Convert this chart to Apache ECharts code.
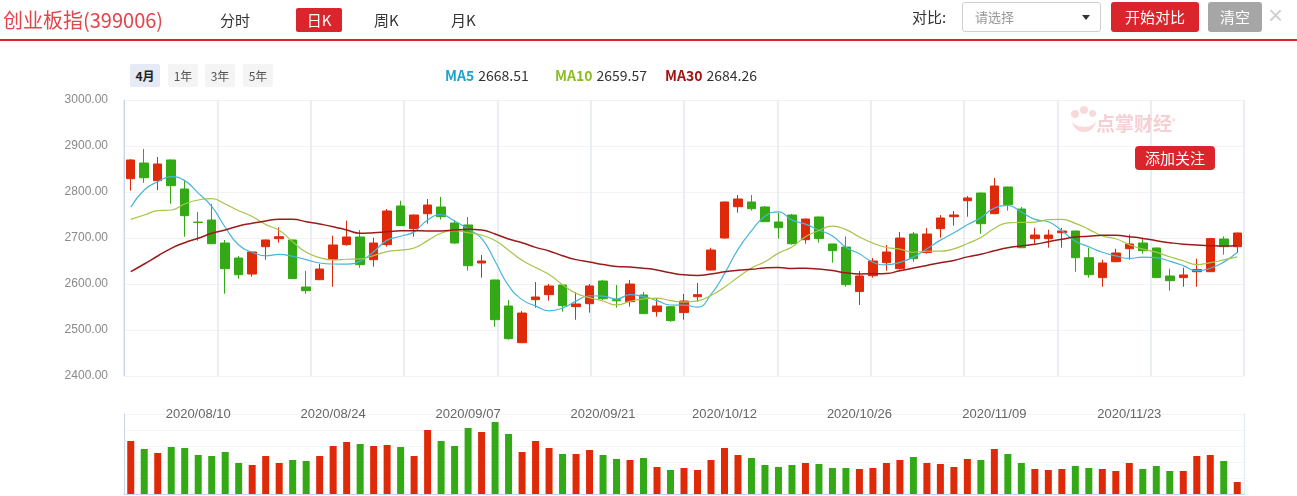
<!DOCTYPE html>
<html><head><meta charset="utf-8">
<script src="https://cdn.jsdelivr.net/npm/echarts@6/dist/echarts.min.js"></script>
<style>
html,body{margin:0;padding:0;background:#fff;width:1297px;height:496px;overflow:hidden;font-family:"Noto Sans CJK SC","Noto Sans",sans-serif;}
#chart{position:absolute;left:0;top:0;width:1297px;height:496px;}
.abs{position:absolute;white-space:nowrap;}
.rng{position:absolute;top:64px;height:23px;width:30px;line-height:23px;text-align:center;font-size:12px;color:#555;background:#f4f4f4;border-radius:2px;}
.lg{position:absolute;top:64px;line-height:22px;font-size:14px;white-space:nowrap;}
.lg b{font-weight:bold;}
.lg span{color:#333;margin-left:4px;}
.dot{position:absolute;background:#f8d9dc;border-radius:50%;}
</style></head><body>
<div id="chart"></div>

<div class="abs" style="left:3px;top:4px;font-size:20px;color:#e2454b;line-height:32px;">创业板指(399006)</div>
<div class="abs" style="left:220px;top:8px;font-size:15px;color:#333;line-height:24px;">分时</div>
<div class="abs" style="left:296px;top:8px;width:46px;height:24px;background:#d9252b;border-radius:2px;color:#fff;font-size:15px;line-height:24px;text-align:center;">日K</div>
<div class="abs" style="left:374px;top:8px;font-size:15px;color:#333;line-height:24px;">周K</div>
<div class="abs" style="left:451px;top:8px;font-size:15px;color:#333;line-height:24px;">月K</div>
<div class="abs" style="left:0;top:39px;width:1297px;height:2px;background:#d9252b;"></div>

<div class="abs" style="left:912px;top:5px;font-size:15px;color:#333;line-height:24px;">对比:</div>
<div class="abs" style="left:962px;top:2px;width:139px;height:30px;border:1px solid #cfcfcf;border-radius:3px;box-sizing:border-box;">
  <div class="abs" style="left:12px;top:0;font-size:13px;color:#999;line-height:28px;">请选择</div>
  <div class="abs" style="left:119px;top:12px;width:0;height:0;border-left:4px solid transparent;border-right:4px solid transparent;border-top:5px solid #333;"></div>
</div>
<div class="abs" style="left:1111px;top:2px;width:88px;height:30px;background:#d9252b;border-radius:3px;color:#fff;font-size:15px;line-height:30px;text-align:center;">开始对比</div>
<div class="abs" style="left:1208px;top:2px;width:54px;height:30px;background:#a6a6a6;border-radius:3px;color:#fff;font-size:15px;line-height:30px;text-align:center;">清空</div>
<div class="abs" style="left:1268px;top:0px;font-size:26px;color:#d0d0d0;line-height:30px;font-family:'Liberation Sans',sans-serif;">×</div>

<div class="rng" style="left:130px;background:#e6eaf4;color:#222;font-weight:bold;">4月</div>
<div class="rng" style="left:168px;">1年</div>
<div class="rng" style="left:205px;">3年</div>
<div class="rng" style="left:243px;">5年</div>

<div id="legend"></div>

<div class="dot" style="left:1071px;top:110px;width:8px;height:8px;"></div>
<div class="dot" style="left:1080px;top:106px;width:8px;height:8px;"></div>
<div class="dot" style="left:1089px;top:110px;width:7px;height:7px;"></div>
<div class="abs" style="left:1072px;top:118px;width:24px;height:14px;border-bottom:5px solid #f8d9dc;border-radius:0 0 14px 14px;box-sizing:border-box;"></div>
<div class="abs" style="left:1096px;top:108px;font-size:19px;font-weight:bold;color:#f6cfd3;line-height:26px;">点掌财经<sup style="font-size:7px;">®</sup></div>
<div class="abs" style="left:1135px;top:146px;width:80px;height:24px;background:#d9252b;border-radius:4px;color:#fff;font-size:15px;line-height:24px;text-align:center;">添加关注</div>

<script>
// ---------- data ----------
const dates = [
 '2020/08/03','2020/08/04','2020/08/05','2020/08/06','2020/08/07',
 '2020/08/10','2020/08/11','2020/08/12','2020/08/13','2020/08/14',
 '2020/08/17','2020/08/18','2020/08/19','2020/08/20','2020/08/21',
 '2020/08/24','2020/08/25','2020/08/26','2020/08/27','2020/08/28',
 '2020/08/31','2020/09/01','2020/09/02','2020/09/03','2020/09/04',
 '2020/09/07','2020/09/08','2020/09/09','2020/09/10','2020/09/11',
 '2020/09/14','2020/09/15','2020/09/16','2020/09/17','2020/09/18',
 '2020/09/21','2020/09/22','2020/09/23','2020/09/24','2020/09/25',
 '2020/09/28','2020/09/29','2020/09/30','2020/10/09',
 '2020/10/12','2020/10/13','2020/10/14','2020/10/15','2020/10/16',
 '2020/10/19','2020/10/20','2020/10/21','2020/10/22','2020/10/23',
 '2020/10/26','2020/10/27','2020/10/28','2020/10/29','2020/10/30',
 '2020/11/02','2020/11/03','2020/11/04','2020/11/05','2020/11/06',
 '2020/11/09','2020/11/10','2020/11/11','2020/11/12','2020/11/13',
 '2020/11/16','2020/11/17','2020/11/18','2020/11/19','2020/11/20',
 '2020/11/23','2020/11/24','2020/11/25','2020/11/26','2020/11/27',
 '2020/11/30','2020/12/01','2020/12/02','2020/12/03'
];
const labelDates = ['2020/08/10','2020/08/24','2020/09/07','2020/09/21','2020/10/12','2020/10/26','2020/11/09','2020/11/23'];

const openVals = [
 2828.9,2863.0,2824.6,2869.6,2806.5,2734.5,2739.1,2689.1,2656.5,2621.7,
 2681.1,2698.5,2695.7,2593.5,2609.4,2653.8,2685.5,2702.2,2652.8,2685.5,
 2769.6,2720.2,2752.8,2767.4,2732.6,2728.3,2645.7,2608.7,2552.2,2472.4,
 2565.9,2576.8,2597.8,2550.7,2557.2,2606.5,2566.0,2561.6,2576.1,2540.0,
 2550.7,2537.8,2572.4,2630.4,2700.0,2768.0,2778.3,2767.4,2734.8,2750.0,
 2696.3,2745.7,2687.0,2680.4,2583.5,2618.0,2646.3,2633.3,2708.7,2668.3,
 2720.2,2746.3,2781.1,2797.8,2752.8,2810.9,2763.0,2698.5,2698.5,2711.5,
 2715.2,2657.2,2613.9,2648.5,2676.7,2689.1,2678.3,2617.4,2613.9,2626.7,
 2626.7,2697.8,2681.1
];
const closeVals = [
 2869.6,2831.0,2860.9,2813.7,2748.5,2733.8,2687.6,2633.3,2620.2,2669.6,
 2695.7,2702.8,2611.8,2585.4,2632.6,2684.8,2702.2,2642.0,2689.1,2758.7,
 2726.8,2750.0,2771.7,2746.4,2689.1,2639.8,2650.0,2522.4,2481.1,2536.9,
 2571.7,2595.7,2552.8,2556.5,2595.7,2568.0,2563.5,2600.0,2535.6,2552.2,
 2520.3,2563.0,2576.8,2673.9,2778.3,2784.8,2763.7,2735.5,2722.4,2687.6,
 2741.3,2698.7,2672.4,2598.5,2617.4,2650.0,2669.6,2700.0,2655.0,2708.7,
 2743.5,2750.0,2787.0,2731.1,2813.0,2772.4,2678.9,2706.5,2706.5,2715.2,
 2657.2,2620.2,2645.7,2667.4,2687.0,2672.4,2613.9,2607.2,2619.6,2631.3,
 2698.7,2681.1,2710.9
];
const lowVals = [
 2802.8,2820.0,2804.3,2774.8,2702.8,2694.1,2687.0,2578.9,2611.5,2616.0,
 2652.8,2689.8,2611.0,2579.0,2608.5,2594.0,2683.3,2635.6,2637.6,2681.1,
 2726.0,2702.8,2731.1,2740.0,2687.0,2628.9,2613.7,2507.2,2479.0,2471.5,
 2548.5,2563.7,2539.8,2522.4,2537.8,2565.2,2548.5,2550.9,2535.0,2529.0,
 2518.0,2522.4,2561.6,2628.9,2698.5,2755.0,2759.6,2735.0,2698.7,2685.5,
 2687.6,2690.0,2646.3,2594.0,2554.3,2613.9,2628.9,2631.3,2648.5,2666.0,
 2700.6,2726.8,2746.3,2709.3,2752.0,2759.4,2678.0,2687.6,2679.0,2679.0,
 2626.7,2613.9,2594.0,2647.5,2652.8,2666.0,2613.0,2585.4,2594.0,2594.0,
 2626.0,2663.7,2668.0
];
const highVals = [
 2871.0,2893.5,2876.1,2870.5,2824.6,2756.5,2773.9,2695.7,2660.9,2670.5,
 2696.5,2723.3,2696.5,2628.3,2643.5,2705.0,2737.6,2717.4,2700.6,2763.0,
 2781.1,2751.0,2784.8,2789.1,2739.1,2745.7,2663.0,2609.5,2565.2,2541.3,
 2604.3,2600.0,2598.5,2582.6,2600.0,2608.7,2597.8,2608.7,2582.6,2569.6,
 2551.5,2578.3,2602.2,2678.9,2779.0,2793.5,2793.5,2769.6,2754.3,2752.2,
 2742.0,2746.5,2687.5,2703.3,2628.3,2656.5,2684.8,2713.0,2713.0,2721.7,
 2750.0,2758.7,2791.3,2798.5,2830.4,2811.5,2767.4,2722.4,2718.0,2721.7,
 2716.0,2679.0,2652.8,2676.7,2707.2,2700.6,2679.0,2633.3,2635.4,2655.0,
 2700.0,2703.3,2711.5
];
const volumeVals = [
 159,135,123,141,138,117,114,126,93,87,
 114,93,102,99,114,144,156,150,144,147,
 141,114,192,159,144,198,186,216,180,126,
 159,138,120,120,132,117,105,102,108,81,
 72,78,72,102,138,117,108,87,81,87,
 93,90,78,78,75,78,93,102,111,93,
 90,81,105,102,135,120,93,75,72,75,
 84,78,75,69,93,75,84,69,69,114,
 117,99,36
];
// moving-average values at the start of the window (they depend on days before 08/03)
const ma5Head = [2766.8,2804.3,2822.4,2833.3];
const ma10Head = [2740.6,2750.0,2759.4,2760.9,2773.9,2782.6,2785.4,2773.9,2759.4];
const ma30Head = [2626.7,2643.5,2660.9,2677.6,2689.8,2699.3,2710.2,2717.4,2726.1,2732.0,
 2737.0,2740.7,2740.7,2735.4,2730.4,2724.6,2717.4,2710.2,2711.5,2713.7,
 2715.9,2715.9,2715.2,2715.2,2717.4,2718.9,2717.4,2708.7,2697.8];
const legendNames = ['MA5','MA10','MA30'];
const legendValues = ['2668.51','2659.57','2684.26'];

// ---------- style ----------
const UP = '#df2a0a', DOWN = '#33a915';
const maColors = ['#45b6da','#a6c64a','#9b1b1b'];
const legendColors = ['#1ea4cb','#8cbd26','#a31414'];

function ma(n, head){
  return closeVals.map((c,i)=>{
    if(i < head.length) return head[i];
    let s=0; for(let k=i-n+1;k<=i;k++) s+=closeVals[k];
    return +(s/n).toFixed(2);
  });
}
const candleData = dates.map((d,i)=>[openVals[i],closeVals[i],lowVals[i],highVals[i]]);
const volData = volumeVals.map((v,i)=>({value:v,itemStyle:{color: closeVals[i]>=openVals[i]?UP:DOWN}}));

// legend
const lg = document.getElementById('legend');
const lgX = [445,555,665];
legendNames.forEach((n,i)=>{
  const d=document.createElement('div'); d.className='lg'; d.style.left=lgX[i]+'px';
  d.innerHTML='<b style="color:'+legendColors[i]+'">'+n+'</b><span>'+legendValues[i]+'</span>';
  lg.appendChild(d);
});

const chart = echarts.init(document.getElementById('chart'));
const lineSeries = [[5,ma5Head],[10,ma10Head],[30,ma30Head]].map((p,i)=>({
  type:'line', name:legendNames[i], xAxisIndex:0, yAxisIndex:0, data: ma(p[0],p[1]),
  smooth:true, symbol:'none', lineStyle:{color:maColors[i], width: i===2?1.5:1.2}, itemStyle:{color:maColors[i]}, z:5
}));
chart.setOption({
  animation:false,
  textStyle:{fontFamily:'"Liberation Sans","Noto Sans CJK SC",sans-serif'},
  grid:[
    {left:124, top:100, width:1120, height:276},
    {left:124, top:414, width:1120, height:80}
  ],
  xAxis:[
    {type:'category', gridIndex:0, data:dates, boundaryGap:true, axisLine:{show:false}, axisTick:{show:false}, axisLabel:{show:false}, splitLine:{show:false}},
    {type:'value', gridIndex:0, min:0, max:12, interval:1, axisLine:{show:false}, axisTick:{show:false}, axisLabel:{show:false}, splitLine:{show:true, lineStyle:{color:'#e2e9f2', width:1.5}}},
    {type:'category', gridIndex:1, data:dates, position:'bottom', boundaryGap:true, axisLine:{show:true, lineStyle:{color:'#c9d5ea'}}, axisTick:{show:false}, axisLabel:{show:false}, splitLine:{show:false}},
    {type:'category', gridIndex:1, data:dates, position:'top', boundaryGap:true, axisLine:{show:false}, axisTick:{show:false}, splitLine:{show:false},
      axisLabel:{show:true, interval:0, hideOverlap:false, formatter:v=>labelDates.indexOf(v)>=0?v:'', color:'#666', fontSize:13, margin:-7}}
  ],
  yAxis:[
    {type:'value', gridIndex:0, min:2400, max:3000, interval:100, axisLine:{show:true, lineStyle:{color:'#c9d5ea'}}, axisTick:{show:false},
      axisLabel:{formatter:v=>v.toFixed(2), color:'#8a8a8a', fontSize:12, margin:16}, splitLine:{lineStyle:{color:'#f3f3f3'}}},
    {type:'value', gridIndex:1, min:0, max:240, interval:48, axisLine:{show:true, lineStyle:{color:'#c9d5ea'}}, axisTick:{show:false}, axisLabel:{show:false}, splitLine:{lineStyle:{color:'#f5f5f5'}}},
    {type:'value', gridIndex:1, position:'right', min:0, max:240, interval:48, axisLine:{show:true, lineStyle:{color:'#e3e9f1'}}, axisTick:{show:false}, axisLabel:{show:false}, splitLine:{show:false}}
  ],
  series:[
    {type:'candlestick', xAxisIndex:0, yAxisIndex:0, data:candleData, barWidth:9,
      itemStyle:{color:UP, color0:DOWN, borderColor:UP, borderColor0:DOWN, borderWidth:1}},
    ...lineSeries,
    {type:'bar', xAxisIndex:2, yAxisIndex:1, data:volData, barWidth:7}
  ]
});
</script>
</body></html>
